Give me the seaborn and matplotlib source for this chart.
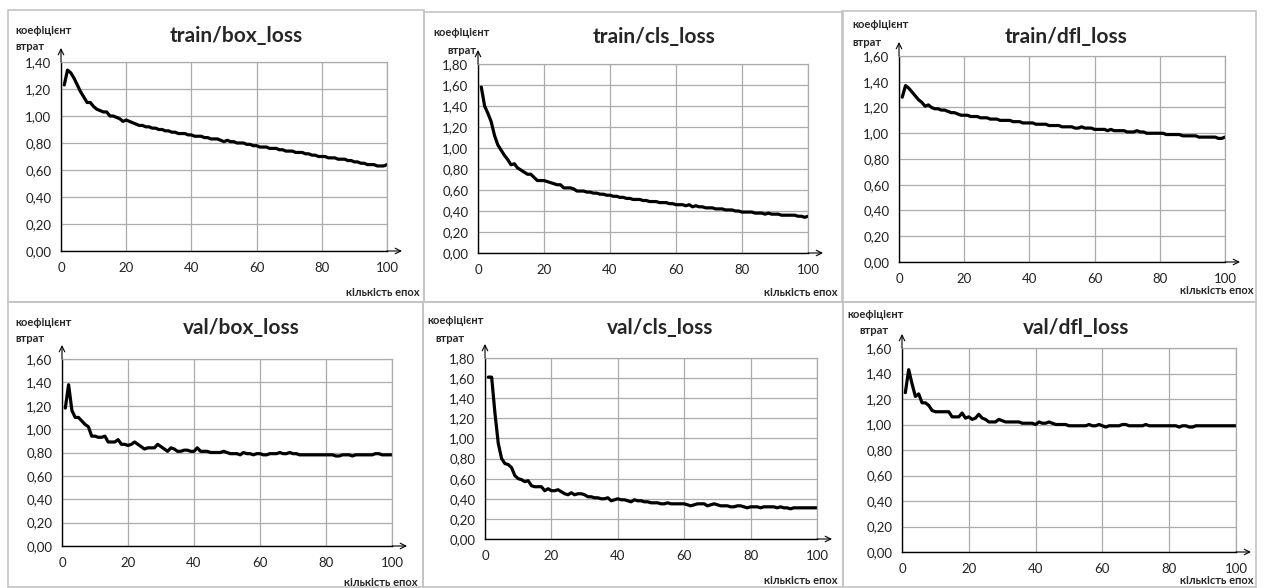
import numpy as np
import matplotlib.pyplot as plt
import seaborn as sns
from matplotlib.ticker import FuncFormatter
from matplotlib.patches import Rectangle

sns.set_style("white")
plt.rcParams['font.family'] = ['Lato', 'DejaVu Sans']

# Data
epochs = list(range(1, 101))

train_box = [1.23, 1.34, 1.32, 1.28, 1.23, 1.18, 1.14, 1.10, 1.10, 1.07,
             1.05, 1.04, 1.03, 1.03, 1.00, 1.00, 0.99, 0.98, 0.96, 0.97,
             0.96, 0.95, 0.94, 0.93, 0.93, 0.92, 0.92, 0.91, 0.91, 0.90,
             0.90, 0.89, 0.89, 0.88, 0.88, 0.87, 0.87, 0.87, 0.86, 0.86,
             0.85, 0.85, 0.85, 0.84, 0.84, 0.83, 0.83, 0.83, 0.82, 0.81,
             0.82, 0.81, 0.81, 0.80, 0.80, 0.80, 0.79, 0.79, 0.78, 0.78,
             0.77, 0.77, 0.77, 0.76, 0.76, 0.76, 0.75, 0.75, 0.74, 0.74,
             0.74, 0.73, 0.73, 0.73, 0.72, 0.72, 0.71, 0.71, 0.70, 0.70,
             0.70, 0.69, 0.69, 0.69, 0.68, 0.68, 0.68, 0.67, 0.67, 0.66,
             0.66, 0.65, 0.65, 0.64, 0.64, 0.64, 0.63, 0.63, 0.63, 0.64]

train_cls = [1.58, 1.40, 1.33, 1.25, 1.12, 1.03, 0.98, 0.93, 0.89, 0.84,
             0.85, 0.81, 0.79, 0.77, 0.75, 0.75, 0.72, 0.69, 0.69, 0.69,
             0.68, 0.67, 0.66, 0.65, 0.65, 0.62, 0.62, 0.62, 0.61, 0.59,
             0.59, 0.59, 0.58, 0.58, 0.57, 0.57, 0.56, 0.56, 0.55, 0.55,
             0.54, 0.54, 0.53, 0.53, 0.52, 0.52, 0.51, 0.51, 0.51, 0.50,
             0.50, 0.49, 0.49, 0.49, 0.48, 0.48, 0.48, 0.47, 0.47, 0.46,
             0.46, 0.46, 0.45, 0.46, 0.44, 0.45, 0.44, 0.44, 0.43, 0.43,
             0.43, 0.42, 0.42, 0.42, 0.41, 0.41, 0.41, 0.40, 0.40, 0.39,
             0.39, 0.39, 0.39, 0.38, 0.38, 0.38, 0.37, 0.38, 0.37, 0.37,
             0.37, 0.36, 0.36, 0.36, 0.36, 0.36, 0.35, 0.35, 0.34, 0.35]

train_dfl = [1.28, 1.37, 1.35, 1.32, 1.29, 1.26, 1.24, 1.21, 1.22, 1.20,
             1.19, 1.19, 1.18, 1.18, 1.17, 1.16, 1.16, 1.15, 1.14, 1.14,
             1.14, 1.13, 1.13, 1.13, 1.12, 1.12, 1.12, 1.11, 1.11, 1.11,
             1.10, 1.10, 1.10, 1.10, 1.09, 1.09, 1.09, 1.08, 1.08, 1.08,
             1.08, 1.07, 1.07, 1.07, 1.07, 1.06, 1.06, 1.06, 1.06, 1.05,
             1.05, 1.05, 1.05, 1.04, 1.04, 1.05, 1.04, 1.04, 1.04, 1.03,
             1.03, 1.03, 1.03, 1.02, 1.03, 1.02, 1.02, 1.02, 1.02, 1.01,
             1.01, 1.01, 1.02, 1.01, 1.01, 1.00, 1.00, 1.00, 1.00, 1.00,
             1.00, 0.99, 0.99, 0.99, 0.99, 0.99, 0.98, 0.98, 0.98, 0.98,
             0.98, 0.97, 0.97, 0.97, 0.97, 0.97, 0.97, 0.96, 0.96, 0.97]

val_box = [1.18, 1.38, 1.16, 1.10, 1.10, 1.07, 1.04, 1.02, 0.94, 0.94,
           0.93, 0.93, 0.94, 0.89, 0.89, 0.89, 0.91, 0.87, 0.87, 0.86,
           0.87, 0.89, 0.87, 0.85, 0.83, 0.84, 0.84, 0.84, 0.87, 0.85,
           0.83, 0.81, 0.84, 0.83, 0.81, 0.81, 0.82, 0.82, 0.81, 0.81,
           0.84, 0.81, 0.81, 0.81, 0.80, 0.80, 0.80, 0.80, 0.81, 0.80,
           0.79, 0.79, 0.79, 0.78, 0.80, 0.79, 0.79, 0.78, 0.79, 0.79,
           0.78, 0.78, 0.79, 0.79, 0.79, 0.80, 0.79, 0.79, 0.80, 0.79,
           0.79, 0.78, 0.78, 0.78, 0.78, 0.78, 0.78, 0.78, 0.78, 0.78,
           0.78, 0.78, 0.77, 0.77, 0.78, 0.78, 0.78, 0.77, 0.78, 0.78,
           0.78, 0.78, 0.78, 0.78, 0.79, 0.79, 0.78, 0.78, 0.78, 0.78]

val_cls = [1.61, 1.61, 1.25, 0.95, 0.80, 0.75, 0.74, 0.71, 0.63, 0.60,
           0.59, 0.57, 0.58, 0.53, 0.52, 0.52, 0.52, 0.48, 0.50, 0.48,
           0.48, 0.49, 0.47, 0.45, 0.44, 0.46, 0.44, 0.45, 0.45, 0.44,
           0.42, 0.42, 0.41, 0.41, 0.40, 0.40, 0.41, 0.38, 0.39, 0.40,
           0.39, 0.39, 0.38, 0.37, 0.39, 0.38, 0.38, 0.37, 0.37, 0.36,
           0.36, 0.36, 0.35, 0.35, 0.36, 0.35, 0.35, 0.35, 0.35, 0.35,
           0.34, 0.33, 0.34, 0.35, 0.35, 0.35, 0.33, 0.34, 0.35, 0.34,
           0.33, 0.33, 0.33, 0.32, 0.32, 0.33, 0.33, 0.32, 0.31, 0.32,
           0.32, 0.32, 0.31, 0.32, 0.32, 0.32, 0.32, 0.31, 0.32, 0.31,
           0.31, 0.30, 0.31, 0.31, 0.31, 0.31, 0.31, 0.31, 0.31, 0.31]

val_dfl = [1.25, 1.43, 1.32, 1.22, 1.24, 1.17, 1.17, 1.15, 1.11, 1.10,
           1.10, 1.10, 1.10, 1.10, 1.06, 1.06, 1.06, 1.09, 1.05, 1.06,
           1.04, 1.05, 1.08, 1.05, 1.04, 1.02, 1.02, 1.02, 1.04, 1.03,
           1.02, 1.02, 1.02, 1.02, 1.02, 1.01, 1.01, 1.01, 1.01, 1.00,
           1.02, 1.01, 1.01, 1.02, 1.01, 1.00, 1.00, 1.00, 1.00, 0.99,
           0.99, 0.99, 0.99, 0.99, 0.99, 1.00, 0.99, 0.99, 1.00, 0.99,
           0.98, 0.99, 0.99, 0.99, 0.99, 1.00, 1.00, 0.99, 0.99, 0.99,
           0.99, 0.99, 1.00, 0.99, 0.99, 0.99, 0.99, 0.99, 0.99, 0.99,
           0.99, 0.99, 0.98, 0.99, 0.99, 0.98, 0.98, 0.99, 0.99, 0.99,
           0.99, 0.99, 0.99, 0.99, 0.99, 0.99, 0.99, 0.99, 0.99, 0.99]

titles = ["train/box_loss", "train/cls_loss", "train/dfl_loss",
          "val/box_loss", "val/cls_loss", "val/dfl_loss"]
series = [train_box, train_cls, train_dfl, val_box, val_cls, val_dfl]
y_max = [1.4, 1.8, 1.6, 1.6, 1.8, 1.6]

# Layout in pixels
W, H = 1267, 588
# plot areas: left, right, top, bottom
boxes = [(61, 387, 62, 251), (478, 808, 64, 253), (899, 1225, 56, 262),
         (62, 392, 359, 546), (485, 817, 358, 539), (902, 1236, 348, 552)]
# outer frames: x0, x1, y0, y1
frames = [(8, 424, 10, 302), (424, 843, 12, 302), (842, 1256, 11, 302),
          (8, 423, 302, 587), (423, 843, 302, 587), (843, 1256, 302, 587)]
title_pos = [(236, 36), (654, 37), (1066, 37), (241, 328), (660, 328), (1076, 328)]
ylab1_pos = [(15, 31), (433, 33), (852, 25), (15, 323), (427, 321), (847, 315)]
ylab2_pos = [(15, 47), (447, 50), (852, 43), (15, 339), (435, 338), (859, 331)]
xlab_pos = [(420, 292), (837, 292), (1253, 290), (418, 582), (838, 580), (1253, 581)]


def fx(px):
    return px / W


def fy(py):
    return 1 - py / H


fig = plt.figure(figsize=(W / 100, H / 100), dpi=100)
fig.patch.set_facecolor("white")

for (x0, x1, y0, y1) in frames:
    fig.add_artist(Rectangle((fx(x0), fy(y1)), (x1 - x0) / W, (y1 - y0) / H,
                             transform=fig.transFigure, fill=False,
                             edgecolor="#c4c4c4", lw=1.2))

comma = FuncFormatter(lambda v, _: f"{v:.2f}".replace(".", ","))

for i in range(6):
    l, r, t, b = boxes[i]
    ax = fig.add_axes([fx(l), fy(b), (r - l) / W, (b - t) / H])
    sns.lineplot(x=epochs, y=series[i], ax=ax, color="black", lw=2.3)
    ax.set_xlim(0, 100)
    ax.set_ylim(0, y_max[i])
    ax.set_xticks(range(0, 101, 20))
    ax.set_yticks(np.arange(0, y_max[i] + 0.01, 0.2))
    ax.yaxis.set_major_formatter(comma)
    ax.grid(True, color="#ababab", lw=0.9)
    ax.set_axisbelow(True)
    for s in ["top", "right"]:
        ax.spines[s].set_color("#ababab")
        ax.spines[s].set_linewidth(0.9)
    for s in ["left", "bottom"]:
        ax.spines[s].set_color("black")
        ax.spines[s].set_linewidth(1.0)
    ax.tick_params(length=0, labelsize=9.5, colors="#222222")
    ax.tick_params(axis="y", pad=7)
    ax.tick_params(axis="x", pad=8)
    ax.set_xlabel("")
    ax.set_ylabel("")

    # axis arrows
    ax.annotate("", xy=(0, 1 + 14 / (b - t)), xytext=(0, 1), xycoords="axes fraction",
                arrowprops=dict(arrowstyle="->", lw=0.8, color="black",
                                shrinkA=0, shrinkB=0), annotation_clip=False)
    ax.annotate("", xy=(1 + 15 / (r - l), 0), xytext=(1, 0), xycoords="axes fraction",
                arrowprops=dict(arrowstyle="->", lw=0.8, color="black",
                                shrinkA=0, shrinkB=0), annotation_clip=False)

    fig.text(fx(title_pos[i][0]), fy(title_pos[i][1]), titles[i], ha="center",
             va="center", fontsize=15, fontweight="bold")
    fig.text(fx(ylab1_pos[i][0]), fy(ylab1_pos[i][1]), "коефіцієнт", ha="left",
             va="center", fontsize=8, fontweight="bold")
    fig.text(fx(ylab2_pos[i][0]), fy(ylab2_pos[i][1]), "втрат", ha="left",
             va="center", fontsize=8, fontweight="bold")
    fig.text(fx(xlab_pos[i][0]), fy(xlab_pos[i][1]), "кількість епох", ha="right",
             va="center", fontsize=8, fontweight="bold")

fig.savefig("out.png", dpi=100, facecolor="white")
